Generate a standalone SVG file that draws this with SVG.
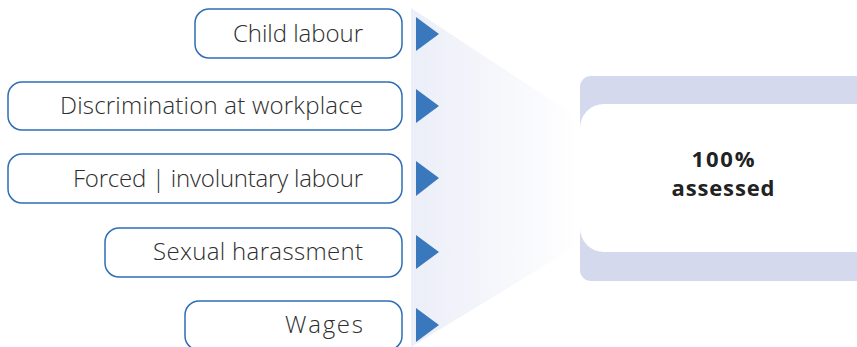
<svg xmlns="http://www.w3.org/2000/svg" width="857" height="347" viewBox="0 0 857 347">
<defs>
<linearGradient id="fg" x1="0" y1="0" x2="1" y2="0">
<stop offset="0" stop-color="#eceef8"/>
<stop offset="1" stop-color="#ffffff"/>
</linearGradient>
<style>
.box{fill:#ffffff;stroke:#2f6db5;stroke-width:1.5}
.lbl{font-family:"Open Sans","Liberation Sans",sans-serif;font-size:24px;font-weight:300;fill:#2e2e2e;text-anchor:end}
.tri{fill:#3a78bd}
.big{font-family:"Open Sans","Liberation Sans",sans-serif;font-size:22px;font-weight:bold;fill:#222222;text-anchor:middle}
</style>
</defs>
<rect width="857" height="347" fill="#ffffff"/>
<g id="funnel">
<polygon points="411,8 580,119 580,244 411,347" fill="url(#fg)"/>
</g>
<g id="connectors">
<polygon class="tri" points="416,17 439,34 416,51"/>
<polygon class="tri" points="416,89 439,106 416,123"/>
<polygon class="tri" points="416,161 439,178 416,196"/>
<polygon class="tri" points="416,235 439,252 416,269"/>
<polygon class="tri" points="416,308 439,325 416,342"/>
</g>
<g id="n1"><rect class="box" x="195" y="9" width="207" height="49" rx="14"/><text class="lbl" x="363" y="42" textLength="130" lengthAdjust="spacing">Child labour</text></g>
<g id="n2"><rect class="box" x="8" y="82" width="394" height="48" rx="14"/><text class="lbl" x="363" y="114" textLength="303" lengthAdjust="spacing">Discrimination at workplace</text></g>
<g id="n3"><rect class="box" x="8" y="154" width="394" height="49" rx="14"/><text class="lbl" x="363" y="187" textLength="290" lengthAdjust="spacing">Forced | involuntary labour</text></g>
<g id="n4"><rect class="box" x="105" y="228" width="297" height="49" rx="14"/><text class="lbl" x="363" y="260" textLength="210" lengthAdjust="spacing">Sexual harassment</text></g>
<g id="n5"><rect class="box" x="185" y="301" width="217" height="49" rx="14"/><text class="lbl" x="363" y="333" textLength="78" lengthAdjust="spacing">Wages</text></g>
<g id="result">
<rect x="580" y="76" width="300" height="205" rx="11" fill="#d4d9ee"/>
<rect x="580" y="104" width="300" height="148" rx="24" fill="#ffffff"/>
<text class="big" x="723" y="167" textLength="63" lengthAdjust="spacing">100%</text>
<text class="big" x="723" y="196" textLength="103" lengthAdjust="spacing">assessed</text>
</g>
</svg>
